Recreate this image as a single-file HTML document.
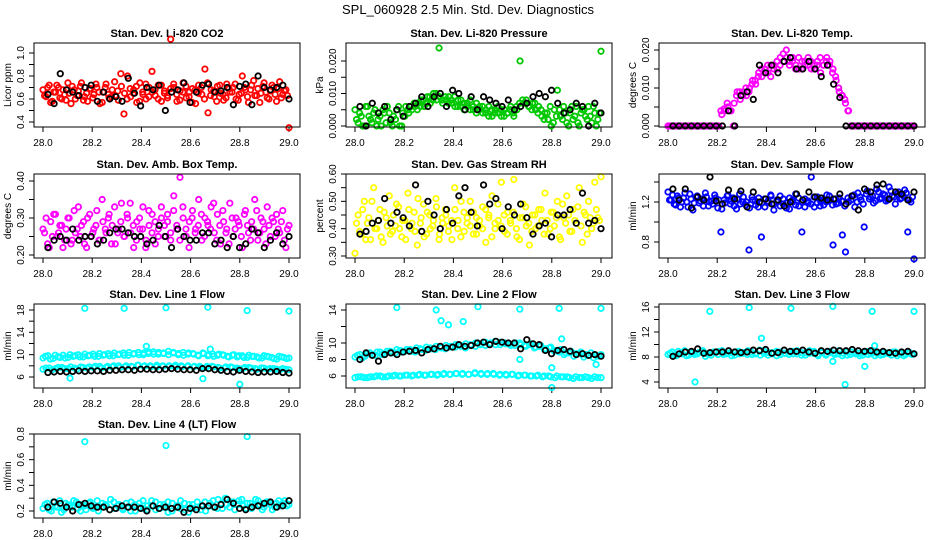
<!DOCTYPE html>
<html><head><meta charset="utf-8">
<style>
html,body{margin:0;padding:0;background:#fff;}
svg{display:block;font-family:"Liberation Sans",Arial,sans-serif;}
</style></head>
<body>
<svg id="chart" width="936" height="540" viewBox="0 0 936 540">
<rect width="936" height="540" fill="#fff"/>
<text x="468" y="14" text-anchor="middle" font-size="13">SPL_060928  2.5 Min. Std. Dev. Diagnostics</text>
</svg>
<script>
// x axis
const xTicks = [28.0, 28.2, 28.4, 28.6, 28.8, 29.0];
const xTickLabels = ["28.0", "28.2", "28.4", "28.6", "28.8", "29.0"];

// Panel 1: Li-820 CO2
const co2Color = [0.68,0.62,0.72,0.58,0.66,0.70,0.60,0.64,0.74,0.56,0.68,0.63,0.71,0.59,0.65,0.69,0.61,0.73,0.66,0.57,0.70,0.64,0.62,0.75,0.67,0.82,0.47,0.60,0.69,0.65,0.71,0.58,0.66,0.73,0.62,0.84,0.68,0.60,0.72,0.65,0.63,1.12,0.70,0.58,0.67,0.74,0.61,0.66,0.69,0.56,0.72,0.64,0.86,0.48,0.68,0.62,0.71,0.65,0.59,0.73,0.66,0.70,0.60,0.64,0.80,0.68,0.57,0.72,0.63,0.69,0.65,0.74,0.61,0.67,0.70,0.58,0.75,0.64,0.68,0.35];
const co2Color2 = [0.63,0.70,0.57,0.66,0.72,0.61,0.68,0.59,0.65,0.71,0.60,0.67,0.74,0.62,0.58,0.69,0.64,0.70,0.56,0.66,0.73,0.61,0.68,0.63,0.59,0.71,0.65,0.80,0.62,0.68,0.57,0.74,0.64,0.60,0.70,0.66,0.63,0.72,0.58,0.67,0.61,0.69,0.73,0.64,0.59,0.66,0.71,0.62,0.57,0.68,0.65,0.70,0.60,0.74,0.63,0.67,0.58,0.72,0.64,0.61,0.69,0.66,0.73,0.59,0.65,0.70,0.62,0.68,0.76,0.63,0.57,0.71,0.66,0.60,0.72,0.64,0.69,0.61,0.67,0.63];
const co2Black = [0.64,0.56,0.82,0.68,0.66,0.63,0.70,0.72,0.58,0.66,0.60,0.62,0.58,0.78,0.65,0.54,0.70,0.68,0.72,0.50,0.66,0.68,0.74,0.57,0.66,0.72,0.73,0.66,0.67,0.70,0.55,0.71,0.73,0.55,0.80,0.70,0.68,0.70,0.72,0.60];
// Panel 2: Pressure
const presColor = [0.005,0.001,0.003,0.000,0.006,0.002,0.004,0.000,0.003,0.005,0.001,0.004,0.000,0.002,0.006,0.000,0.003,0.005,0.006,0.007,0.005,0.006,0.008,0.007,0.009,0.008,0.010,0.024,0.008,0.009,0.007,0.008,0.009,0.006,0.008,0.007,0.006,0.008,0.005,0.007,0.006,0.004,0.005,0.006,0.003,0.005,0.004,0.003,0.005,0.004,0.006,0.003,0.005,0.020,0.007,0.008,0.006,0.007,0.005,0.006,0.003,0.004,0.002,0.000,0.005,0.011,0.003,0.006,0.001,0.004,0.002,0.006,0.000,0.005,0.003,0.006,0.001,0.004,0.002,0.023];
const presColor2 = [0.002,0.004,0.000,0.006,0.003,0.001,0.005,0.002,0.000,0.004,0.006,0.001,0.003,0.005,0.000,0.004,0.006,0.004,0.005,0.006,0.007,0.008,0.006,0.009,0.007,0.010,0.008,0.009,0.007,0.008,0.009,0.007,0.006,0.008,0.006,0.005,0.007,0.005,0.006,0.004,0.005,0.006,0.004,0.003,0.005,0.004,0.006,0.005,0.003,0.004,0.005,0.004,0.006,0.007,0.008,0.007,0.006,0.005,0.007,0.004,0.005,0.002,0.004,0.006,0.001,0.003,0.005,0.002,0.004,0.000,0.006,0.003,0.001,0.004,0.005,0.002,0.003,0.006,0.000,0.004];
const presBlack = [0.006,0.000,0.007,0.004,0.006,0.002,0.005,0.003,0.006,0.007,0.009,0.006,0.009,0.010,0.006,0.011,0.010,0.005,0.009,0.005,0.009,0.008,0.007,0.006,0.008,0.005,0.006,0.007,0.009,0.010,0.009,0.011,0.007,0.004,0.005,0.007,0.006,0.000,0.007,0.004];
// Panel 3: Li-820 Temp
const tempColor = [0,0,0,0,0,0,0,0,0,0,0,0,0,0,0,0,0,0.004,0.0045,0.006,0.004,0.000,0.008,0.009,0.008,0.010,0.009,0.011,0.012,0.013,0.015,0.014,0.016,0.013,0.015,0.017,0.016,0.019,0.020,0.017,0.018,0.016,0.015,0.017,0.016,0.018,0.015,0.016,0.017,0.014,0.016,0.018,0.017,0.015,0.012,0.009,0.008,0.006,0.004,0,0,0,0,0,0,0,0,0,0,0,0,0,0,0,0,0,0,0,0,0];
const tempColor2 = [0,0,0,0,0,0,0,0,0,0,0,0,0,0,0,0,0,0.003,0.004,0.005,0.004,0.006,0.009,0.007,0.009,0.008,0.010,0.012,0.011,0.014,0.013,0.015,0.014,0.016,0.016,0.015,0.018,0.017,0.018,0.016,0.017,0.015,0.018,0.015,0.017,0.016,0.017,0.015,0.016,0.018,0.016,0.017,0.016,0.014,0.013,0.010,0.008,0.007,0.004,0,0,0,0,0,0,0,0,0,0,0,0,0,0,0,0,0,0,0,0,0];
const tempBlack = [0,0,0,0,0,0,0,0,0,0.004,0,0.008,0.009,0.007,0.016,0.014,0.016,0.014,0.017,0.018,0.015,0.015,0.017,0.015,0.013,0.016,0.011,0.0075,0,0,0,0,0,0,0,0,0,0,0,0];
// Panel 4: Amb box temp
const ambColor = [0.27,0.30,0.22,0.25,0.31,0.26,0.28,0.24,0.30,0.23,0.32,0.27,0.25,0.29,0.22,0.31,0.26,0.28,0.24,0.35,0.27,0.30,0.23,0.33,0.26,0.29,0.25,0.31,0.34,0.28,0.24,0.30,0.27,0.22,0.32,0.26,0.29,0.25,0.33,0.28,0.31,0.24,0.36,0.27,0.41,0.30,0.25,0.29,0.32,0.27,0.35,0.24,0.30,0.28,0.33,0.26,0.31,0.23,0.29,0.27,0.34,0.25,0.30,0.28,0.22,0.32,0.26,0.29,0.35,0.24,0.30,0.27,0.33,0.25,0.29,0.31,0.26,0.32,0.22,0.28];
const ambColor2 = [0.26,0.23,0.29,0.31,0.25,0.28,0.22,0.27,0.30,0.24,0.26,0.33,0.28,0.23,0.30,0.25,0.27,0.32,0.24,0.29,0.26,0.31,0.28,0.23,0.27,0.34,0.25,0.30,0.26,0.22,0.29,0.27,0.33,0.24,0.28,0.31,0.23,0.27,0.30,0.25,0.29,0.26,0.32,0.28,0.24,0.33,0.27,0.22,0.30,0.26,0.28,0.31,0.25,0.29,0.27,0.34,0.24,0.28,0.32,0.26,0.23,0.30,0.27,0.29,0.25,0.31,0.28,0.24,0.27,0.32,0.26,0.29,0.23,0.28,0.30,0.25,0.27,0.29,0.24,0.27];
const ambBlack = [0.22,0.24,0.25,0.24,0.27,0.24,0.25,0.25,0.23,0.24,0.26,0.27,0.27,0.26,0.25,0.25,0.23,0.24,0.28,0.25,0.22,0.27,0.25,0.24,0.24,0.26,0.26,0.23,0.24,0.22,0.25,0.22,0.23,0.27,0.26,0.22,0.24,0.26,0.23,0.25];
// Panel 5: Gas stream RH
const rhColor = [0.31,0.45,0.38,0.50,0.42,0.36,0.55,0.40,0.47,0.35,0.44,0.52,0.39,0.41,0.48,0.37,0.43,0.53,0.40,0.46,0.34,0.42,0.49,0.38,0.45,0.41,0.51,0.36,0.44,0.47,0.39,0.43,0.55,0.40,0.37,0.46,0.42,0.50,0.38,0.44,0.41,0.48,0.35,0.45,0.52,0.40,0.43,0.57,0.39,0.46,0.42,0.58,0.37,0.44,0.49,0.41,0.34,0.45,0.40,0.47,0.43,0.53,0.38,0.46,0.41,0.50,0.36,0.44,0.52,0.39,0.47,0.42,0.55,0.35,0.45,0.50,0.40,0.57,0.44,0.59];
const rhColor2 = [0.42,0.39,0.47,0.36,0.44,0.50,0.40,0.43,0.37,0.46,0.41,0.38,0.45,0.49,0.40,0.43,0.36,0.47,0.42,0.39,0.51,0.44,0.37,0.46,0.40,0.43,0.48,0.38,0.42,0.45,0.41,0.36,0.47,0.43,0.50,0.39,0.44,0.41,0.46,0.38,0.43,0.40,0.47,0.44,0.37,0.42,0.49,0.41,0.45,0.38,0.43,0.46,0.40,0.36,0.44,0.48,0.42,0.39,0.45,0.41,0.47,0.38,0.43,0.40,0.46,0.44,0.37,0.49,0.42,0.45,0.39,0.43,0.48,0.41,0.46,0.38,0.44,0.42,0.47,0.43];
const rhBlack = [0.38,0.39,0.42,0.43,0.51,0.42,0.46,0.44,0.41,0.56,0.39,0.50,0.45,0.40,0.47,0.42,0.52,0.55,0.46,0.41,0.56,0.49,0.51,0.40,0.48,0.45,0.49,0.44,0.38,0.41,0.42,0.37,0.45,0.45,0.47,0.42,0.53,0.42,0.43,0.40];
// Panel 6: Sample flow
const sfColor = [1.30,1.22,1.18,1.26,1.15,1.24,1.20,1.28,1.12,1.25,1.19,1.23,1.29,1.16,1.21,1.27,1.14,0.90,1.22,1.26,1.18,1.24,1.13,1.28,1.20,1.17,0.72,1.25,1.21,1.15,0.85,1.23,1.19,1.27,1.12,1.22,1.26,1.18,1.14,1.24,1.20,1.28,1.16,0.90,1.23,1.19,1.45,1.15,1.25,1.21,1.17,1.27,1.22,0.77,1.18,1.24,0.87,0.70,1.20,1.26,1.15,1.29,1.22,0.95,1.31,1.25,1.19,1.33,1.23,1.28,1.21,1.35,1.26,1.18,1.30,1.24,1.32,0.90,1.20,0.63];
const sfColor2 = [1.22,1.27,1.17,1.24,1.20,1.29,1.15,1.23,1.19,1.26,1.21,1.16,1.25,1.20,1.18,1.24,1.22,1.13,1.19,1.27,1.21,1.16,1.23,1.18,1.25,1.20,1.14,1.22,1.17,1.24,1.19,1.15,1.21,1.26,1.18,1.20,1.16,1.23,1.19,1.13,1.22,1.17,1.24,1.20,1.15,1.21,1.18,1.25,1.19,1.16,1.22,1.20,1.26,1.17,1.23,1.19,1.21,1.16,1.24,1.22,1.27,1.20,1.25,1.18,1.28,1.23,1.26,1.21,1.30,1.24,1.27,1.22,1.31,1.25,1.28,1.23,1.26,1.29,1.22,1.25];
const sfBlack = [1.33,1.22,1.33,1.14,1.25,1.22,1.45,1.21,1.18,1.32,1.23,1.31,1.15,1.30,1.20,1.23,1.18,1.22,1.16,1.20,1.28,1.22,1.30,1.25,1.24,1.22,1.23,1.28,1.18,1.26,1.12,1.33,1.30,1.37,1.38,1.23,1.30,1.28,1.22,1.30];
// Panel 7: Line 1 flow
const l1BandA = [9.4,9.8,9.3,9.6,9.9,9.5,9.7,10.0,9.6,9.8,10.1,9.7,9.9,10.2,9.8,10.0,10.3,9.9,10.1,10.4,10.0,10.2,10.5,10.1,10.3,10.0,10.4,10.2,9.9,10.3,10.1,9.8,10.2,10.0,9.7,10.1,9.9,9.6,10.0,9.8,9.5,9.9,9.7,9.4,9.8,9.6,9.3,9.7,9.5,9.4];
const l1BandA2 = [9.7,9.2,9.9,9.5,9.4,10.0,9.8,9.6,10.1,9.9,9.7,10.2,10.0,9.8,10.3,10.1,9.9,10.4,10.2,10.0,10.3,10.5,10.1,10.4,10.2,10.6,10.3,10.0,10.4,10.1,10.2,9.9,10.3,9.8,10.1,9.9,10.0,9.7,9.9,9.6,9.8,9.5,9.7,9.6,9.4,9.7,9.5,9.2,9.6,9.3];
const l1BandB = [7.4,7.6,7.5,7.7,7.5,7.6,7.8,7.6,7.7,7.9,7.7,7.8,8.0,7.8,7.9,8.1,7.9,8.0,7.8,8.0,7.9,8.1,7.8,8.0,7.9,7.7,7.9,7.8,7.6,7.8,7.7,7.5,7.7,7.6,7.4,7.6,7.5,7.4,7.5,7.3];
const l1BandB2 = [7.6,7.3,7.7,7.5,7.8,7.4,7.7,7.8,7.9,7.6,7.9,8.0,7.7,8.0,7.8,8.1,8.0,7.8,8.1,7.9,8.0,7.8,8.0,7.9,7.8,7.9,7.7,7.9,7.7,7.6,7.8,7.6,7.5,7.7,7.5,7.6,7.4,7.5,7.3,7.4];
const l1OutT = [28.17,28.33,28.5,28.67,28.83,29.0,28.11,28.65,28.8,28.42,28.68];
const l1OutV = [18.3,18.3,18.4,18.5,17.9,17.8,5.8,5.7,4.7,11.5,11.0];
const l1Black = [6.8,6.9,7.0,6.9,7.0,7.1,7.0,7.1,7.1,7.0,7.2,7.2,7.3,7.3,7.2,7.4,7.4,7.3,7.3,7.4,7.5,7.4,7.3,7.3,7.2,7.5,7.5,7.3,7.2,7.0,6.9,7.2,7.0,6.9,6.8,6.9,6.9,7.0,6.8,6.7];
// Panel 8: Line 2 flow
const l2BandA = [8.3,8.6,8.4,8.8,8.5,8.9,8.7,9.0,8.8,9.1,9.0,9.2,8.9,9.3,9.1,9.4,9.2,9.5,9.3,9.6,9.5,9.7,9.4,9.8,9.6,9.9,9.7,10.0,9.8,10.1,9.9,9.7,10.0,9.8,9.6,9.9,9.5,9.7,9.3,9.5,9.1,9.2,8.8,9.0,8.7,8.9,8.6,8.8,8.5,8.6];
const l2BandA2 = [8.5,8.2,8.7,8.6,8.9,8.6,9.0,8.8,9.2,8.9,9.2,9.0,9.4,9.2,9.5,9.3,9.6,9.4,9.7,9.5,9.8,9.6,9.9,9.7,10.0,9.8,10.1,9.9,10.2,9.8,10.0,9.9,9.7,10.0,9.7,9.8,9.4,9.6,9.2,9.4,9.0,8.9,8.6,8.8,8.4,8.7,8.3,8.5,8.2,8.4];
const l2BandB = [5.8,5.9,5.8,5.9,6.0,5.9,6.0,6.0,6.1,6.0,6.1,6.1,6.2,6.1,6.2,6.2,6.3,6.2,6.2,6.3,6.2,6.3,6.2,6.2,6.1,6.2,6.1,6.1,6.0,6.1,6.0,5.9,6.0,5.9,5.8,5.9,5.8,5.8,5.9,5.8];
const l2BandB2 = [5.9,5.8,5.9,6.0,5.9,6.0,6.1,6.0,6.1,6.1,6.2,6.1,6.2,6.2,6.3,6.2,6.3,6.3,6.2,6.4,6.3,6.2,6.3,6.1,6.2,6.2,6.0,6.1,6.0,6.0,5.9,6.0,5.8,5.9,5.9,5.7,5.8,5.9,5.7,5.8];
const l2OutT = [28.17,28.33,28.5,28.67,28.83,29.0,28.35,28.38,28.44,28.8,28.84,28.8,28.67,28.98];
const l2OutV = [14.3,14.0,14.4,14.1,14.2,14.2,12.7,12.2,12.6,7.0,10.5,4.6,8.0,7.4];
const l2Black = [8.0,8.8,8.5,7.8,8.6,8.8,8.6,8.9,9.0,9.1,8.8,9.2,9.3,9.6,9.4,9.5,9.8,9.6,9.7,10.0,10.1,9.8,10.2,10.1,10.0,10.0,9.3,10.4,9.9,9.8,9.1,8.7,9.1,9.2,9.0,8.6,8.7,8.5,8.6,8.4];
// Panel 9: Line 3 flow
const l3BandA = [8.4,8.8,8.2,8.6,9.0,8.3,8.7,8.5,8.9,8.1,8.6,8.8,8.4,9.0,8.5,8.7,8.3,8.9,8.6,8.4,8.8,8.5,9.1,8.6,8.3,8.7,8.9,8.4,8.6,8.8,8.5,9.0,8.3,8.7,8.6,8.9,8.2,8.8,8.5,8.7,8.4,9.0,8.6,8.3,8.8,8.5,8.2,8.7,8.4,8.9,8.6,8.3,8.7,8.5,8.8,8.2,8.6,8.4,8.7,8.5];
const l3BandA2 = [8.6,8.3,8.9,8.5,8.2,8.8,8.4,8.7,9.0,8.5,8.3,8.7,8.9,8.4,8.6,8.2,8.8,8.5,8.7,9.0,8.4,8.6,8.3,8.9,8.7,8.5,8.2,8.8,8.6,8.4,8.9,8.5,8.7,8.3,9.0,8.6,8.4,8.7,8.3,8.9,8.6,8.5,8.2,8.8,8.4,8.7,8.6,8.3,8.9,8.5,8.2,8.7,8.4,8.6,8.3,8.8,8.5,8.2,8.6,8.4];
const l3OutT = [28.17,28.33,28.5,28.67,28.83,29.0,28.11,28.72,28.38,28.67,28.8,28.84];
const l3OutV = [15.3,15.9,15.8,16.1,15.3,15.3,4.0,3.6,11.0,7.3,6.5,9.8];
const l3Black = [8.1,8.5,8.8,8.9,9.3,8.6,8.7,8.8,8.8,9.0,8.8,8.7,8.8,9.1,9.0,9.2,8.6,8.7,9.1,8.9,8.9,9.1,8.8,8.6,9.0,8.9,9.1,9.0,9.0,9.2,9.0,8.9,9.0,8.8,8.9,8.7,8.6,8.8,8.9,8.5];
// Panel 10: Line 4 (LT) flow
const l4BandA = [0.22,0.26,0.20,0.24,0.28,0.21,0.25,0.23,0.27,0.20,0.24,0.26,0.22,0.28,0.23,0.25,0.21,0.27,0.24,0.22,0.26,0.20,0.25,0.23,0.28,0.21,0.24,0.27,0.22,0.25,0.19,0.26,0.23,0.28,0.21,0.25,0.22,0.27,0.24,0.20,0.26,0.23,0.29,0.22,0.25,0.27,0.21,0.28,0.24,0.26,0.22,0.29,0.25,0.23,0.27,0.21,0.26,0.24,0.28,0.25];
const l4BandA2 = [0.25,0.21,0.27,0.23,0.19,0.26,0.24,0.28,0.22,0.25,0.21,0.27,0.23,0.20,0.26,0.24,0.29,0.22,0.25,0.21,0.23,0.27,0.20,0.26,0.22,0.24,0.28,0.21,0.25,0.23,0.27,0.20,0.24,0.22,0.26,0.19,0.25,0.23,0.21,0.27,0.24,0.28,0.22,0.26,0.30,0.23,0.27,0.25,0.29,0.22,0.26,0.24,0.28,0.21,0.27,0.25,0.23,0.28,0.26,0.24];
const l4OutT = [28.17,28.5,28.83];
const l4OutV = [0.74,0.71,0.78];
const l4Black = [0.23,0.27,0.26,0.23,0.20,0.25,0.26,0.24,0.23,0.23,0.21,0.22,0.24,0.23,0.23,0.22,0.20,0.24,0.22,0.23,0.22,0.23,0.19,0.22,0.21,0.24,0.24,0.23,0.25,0.29,0.26,0.22,0.21,0.23,0.24,0.26,0.27,0.23,0.24,0.28];

// y tick values / labels
const p1Ticks=[0.4,0.5,0.6,0.7,0.8,0.9,1.0], p1Labels=["0.4","","0.6","","0.8","","1.0"];
const p2Ticks=[0,0.005,0.01,0.015,0.02], p2Labels=["0.000","","0.010","","0.020"];
const p3Ticks=[0,0.005,0.01,0.015,0.02], p3Labels=["0.000","","0.010","","0.020"];
const p4Ticks=[0.2,0.25,0.3,0.35,0.4], p4Labels=["0.20","","0.30","","0.40"];
const p5Ticks=[0.3,0.35,0.4,0.45,0.5,0.55,0.6], p5Labels=["0.30","","0.40","","0.50","","0.60"];
const p6Ticks=[0.8,1.0,1.2,1.4], p6Labels=["0.8","","1.2",""];
const p7Ticks=[6,8,10,12,14,16,18], p7Labels=["6","","10","","14","","18"];
const p8Ticks=[6,8,10,12,14], p8Labels=["6","8","10","","14"];
const p9Ticks=[4,6,8,10,12,14,16], p9Labels=["4","","8","","12","","16"];
const p10Ticks=[0.2,0.3,0.4,0.5,0.6,0.7,0.8], p10Labels=["0.2","","0.4","","0.6","","0.8"];

const NS="http://www.w3.org/2000/svg";
const svg=document.getElementById('chart');
const rowTop=[43,174,304,434], colLeft=[34,346,659], BW=266, BH=84;

const panels=[
 {name:"co2",title:"Stan. Dev. Li-820 CO2",ylab:"Licor ppm",r:0,c:0,y0:[0.4,122],y1:[1.0,53],ticks:p1Ticks,labels:p1Labels,color:"#ff0000",bands:[co2Color],bands2:[co2Color2],black:co2Black},
 {name:"pressure",title:"Stan. Dev. Li-820 Pressure",ylab:"kPa",r:0,c:1,y0:[0,126],y1:[0.02,61],ticks:p2Ticks,labels:p2Labels,color:"#00c800",bands:[presColor],bands2:[presColor2],black:presBlack},
 {name:"li820-temp",title:"Stan. Dev. Li-820 Temp.",ylab:"degrees C",r:0,c:2,y0:[0,126],y1:[0.02,50],ticks:p3Ticks,labels:p3Labels,color:"#ff00ff",bands:[tempColor],bands2:[tempColor2],black:tempBlack},
 {name:"amb-box-temp",title:"Stan. Dev. Amb. Box Temp.",ylab:"degrees C",r:1,c:0,y0:[0.2,255],y1:[0.4,181],ticks:p4Ticks,labels:p4Labels,color:"#ff00ff",bands:[ambColor],bands2:[ambColor2],black:ambBlack},
 {name:"gas-stream-rh",title:"Stan. Dev. Gas Stream RH",ylab:"percent",r:1,c:1,y0:[0.3,256],y1:[0.6,174],ticks:p5Ticks,labels:p5Labels,color:"#ffff00",bands:[rhColor],bands2:[rhColor2],black:rhBlack},
 {name:"sample-flow",title:"Stan. Dev. Sample Flow",ylab:"ml/min",r:1,c:2,y0:[0.8,242],y1:[1.2,202],ticks:p6Ticks,labels:p6Labels,color:"#0000ff",bands:[sfColor],bands2:[sfColor2],black:sfBlack},
 {name:"line1-flow",title:"Stan. Dev. Line 1 Flow",ylab:"ml/min",r:2,c:0,y0:[6,377],y1:[18,310],ticks:p7Ticks,labels:p7Labels,color:"#00ffff",bands:[l1BandA,l1BandB],bands2:[l1BandA2,l1BandB2],outT:l1OutT,outV:l1OutV,black:l1Black},
 {name:"line2-flow",title:"Stan. Dev. Line 2 Flow",ylab:"ml/min",r:2,c:1,y0:[6,376],y1:[14,310],ticks:p8Ticks,labels:p8Labels,color:"#00ffff",bands:[l2BandA,l2BandB],bands2:[l2BandA2,l2BandB2],outT:l2OutT,outV:l2OutV,black:l2Black},
 {name:"line3-flow",title:"Stan. Dev. Line 3 Flow",ylab:"ml/min",r:2,c:2,y0:[4,382],y1:[16,307],ticks:p9Ticks,labels:p9Labels,color:"#00ffff",bands:[l3BandA],bands2:[l3BandA2],outT:l3OutT,outV:l3OutV,black:l3Black},
 {name:"line4-flow",title:"Stan. Dev. Line 4 (LT) Flow",ylab:"ml/min",r:3,c:0,y0:[0.2,511],y1:[0.8,434],ticks:p10Ticks,labels:p10Labels,color:"#00ffff",bands:[l4BandA],bands2:[l4BandA2],outT:l4OutT,outV:l4OutV,black:l4Black}
];

function mk(tag,attrs,parent){const e=document.createElementNS(NS,tag);for(const k in attrs)e.setAttribute(k,attrs[k]);(parent||svg).appendChild(e);return e;}

panels.forEach(p=>{
  const L=colLeft[p.c], T=rowTop[p.r], B=T+BH;
  const g=mk('g',{});
  
  
  const xs=v=>L+9+(v-28)*246;
  const ys=v=>p.y0[1]+(v-p.y0[0])*(p.y1[1]-p.y0[1])/(p.y1[0]-p.y0[0]);
  const t=mk('text',{x:L+BW/2,y:T-6,'text-anchor':'middle','font-size':11,'font-weight':'bold'},g);
  t.textContent=p.title;
  
  
  const yl=mk('text',{x:0,y:0,'text-anchor':'middle','font-size':10,transform:`translate(${L-23},${T+BH/2}) rotate(-90)`},g);
  yl.textContent=p.ylab;
  
  
  xTicks.forEach((v,i)=>{
    mk('line',{x1:xs(v),x2:xs(v),y1:B,y2:B+5,stroke:'#000','stroke-width':1},g);
    const tl=mk('text',{x:xs(v),y:B+19,'text-anchor':'middle','font-size':10},g);
    tl.textContent=xTickLabels[i];
    
    
  });
  p.ticks.forEach((v,i)=>{
    const y=ys(v);
    mk('line',{x1:L-5,x2:L,y1:y,y2:y,stroke:'#000','stroke-width':1},g);
    if(p.labels[i]){
      const tl=mk('text',{x:0,y:0,'text-anchor':'middle','font-size':10,transform:`translate(${L-10},${y}) rotate(-90)`},g);
      tl.textContent=p.labels[i];
      
      
    }
  });
  const sg=mk('g',{fill:'none',stroke:p.color,'stroke-width':1.8},g);
  
  
  p.bands.forEach(arr=>{
    arr.forEach((v,i)=>{
      const c=mk('circle',{cx:xs(28+i/(arr.length-1)),cy:ys(v),r:2.7},sg);
      
      
    });
  });
  p.bands2.forEach(arr=>{
    arr.forEach((v,i)=>{
      const c=mk('circle',{cx:xs(28+(i+0.5)/arr.length),cy:ys(v),r:2.7},sg);
      
      
    });
  });
  if(p.outT){
    p.outT.forEach((tv,i)=>{
      const c=mk('circle',{cx:xs(tv),cy:ys(p.outV[i]),r:2.7},sg);
      
      
    });
  }
  const bg=mk('g',{fill:'none',stroke:'#000','stroke-width':1.8},g);
  
  
  p.black.forEach((v,i)=>{
    const c=mk('circle',{cx:xs(28.02+0.98*i/(p.black.length-1)),cy:ys(v),r:2.7},bg);
    
    
  });
  const bx=mk('rect',{x:L,y:T,width:BW,height:BH,fill:'none',stroke:'#000','stroke-width':1},g);
  
  
});
</script>
</body></html>
